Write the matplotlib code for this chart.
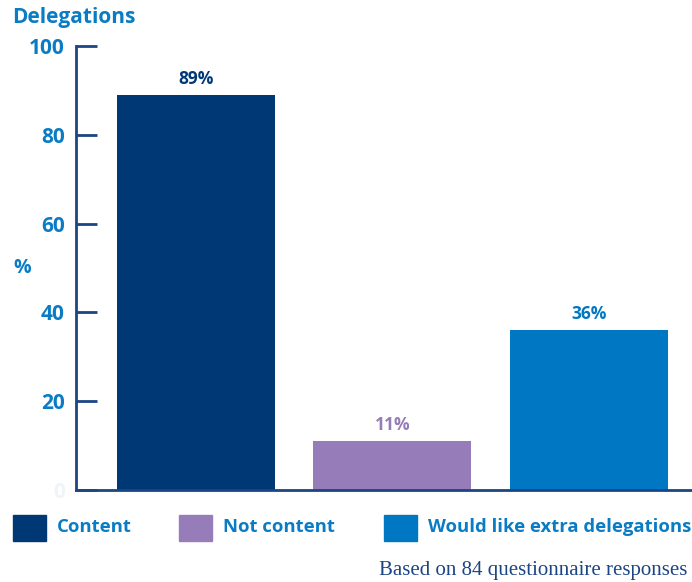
import matplotlib.pyplot as plt
from matplotlib.patches import Rectangle

categories = ['Content', 'Not content', 'Would like extra delegations']
values = [89, 11, 36]
colors = ['#003876', '#967cb8', '#0077c2']
yticks = [0, 20, 40, 60, 80, 100]

blue = '#0a7cc4'
navy = '#1c4583'
plt.rcParams['font.family'] = ['Open Sans', 'DejaVu Sans']

fig = plt.figure(figsize=(6.92, 5.82), dpi=100)
ax = fig.add_axes([76 / 692, 92 / 582, 1 - 76 / 692, 444 / 582])

x = range(len(values))
ax.bar(x, values, width=0.804, color=colors, zorder=2)
for xi, v, c in zip(x, values, colors):
    ax.text(xi, v + 1.6, f'{v}%', ha='center', va='bottom', color=c,
            fontsize=12.5, fontweight='bold')

ax.set_xlim(-0.61, 2.524)
ax.set_ylim(0, 100)
ax.set_xticks([])
ax.set_yticks(yticks)
ax.set_yticklabels([str(t) for t in yticks])
for lab, t in zip(ax.get_yticklabels(), yticks):
    lab.set_color(blue if t else '#f0f4f8')
    lab.set_fontweight('bold')
    lab.set_fontsize(15)
ax.tick_params(axis='y', direction='in', length=15, width=2, color=navy, pad=8)
for s in ['top', 'right']:
    ax.spines[s].set_visible(False)
ax.spines['left'].set_color(navy)
ax.spines['left'].set_linewidth(2)
ax.spines['bottom'].set_color(navy)
ax.spines['bottom'].set_linewidth(2)

fig.text(12 / 692, 1 - 17 / 582, 'Delegations', color=blue, fontsize=15,
         fontweight='bold', va='center', ha='left')
fig.text(22 / 692, 1 - 268 / 582, '%', color=blue, fontsize=14,
         fontweight='bold', va='center', ha='center')

# legend
leg_x = [13, 179, 384]
for lx, lab, c in zip(leg_x, categories, colors):
    fig.patches.append(Rectangle((lx / 692, 1 - 541 / 582), 33 / 692, 26 / 582,
                                 transform=fig.transFigure, color=c))
    fig.text((lx + 44) / 692, 1 - 527 / 582, lab, color=blue, fontsize=13.3,
             fontweight='bold', va='center', ha='left')

fig.text(687 / 692, 1 - 570 / 582, 'Based on 84 questionnaire responses',
         color=navy, fontsize=15, family='Liberation Serif',
         va='center', ha='right')

fig.savefig('out.png', dpi=100)
